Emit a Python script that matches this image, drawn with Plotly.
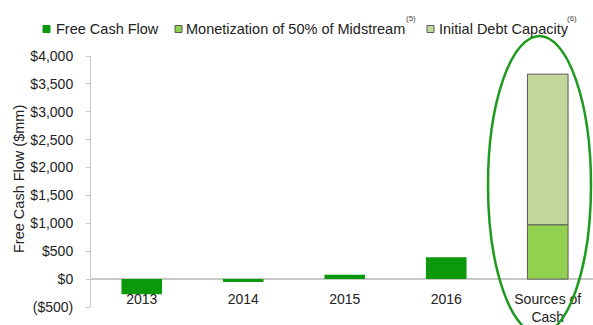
import plotly.graph_objects as go

categories = ["2013", "2014", "2015", "2016", "Sources of<br>Cash"]
free_cash_flow = [-270, -50, 80, 390, None]
midstream = [None, None, None, None, 975]
debt_capacity = [None, None, None, None, 2700]
series_names = ["Free Cash Flow", "Monetization of 50% of Midstream", "Initial Debt Capacity"]
series_notes = ["", "(5)", "(6)"]
y_ticks = [-500, 0, 500, 1000, 1500, 2000, 2500, 3000, 3500, 4000]
y_tick_labels = ["($500)", "$0", "$500", "$1,000", "$1,500", "$2,000", "$2,500", "$3,000", "$3,500", "$4,000"]

W, H = 593, 325
L, R, T, B = 91, 0, 56, 18
pw, ph = W - L - R, H - T - B
cat_px = 101.5

def px_x(x):
    return (x - L) / pw

def px_y(y):
    return (H - B - y) / ph

font = "Liberation Sans, Arial, sans-serif"
colors = ["#0a990a", "#92d050", "#c4d79b"]
outline = "#5a5a5a"

fig = go.Figure()
fig.add_trace(go.Bar(x=categories, y=free_cash_flow, name=series_names[0],
                     marker=dict(color=colors[0], line=dict(width=0)), width=0.4))
fig.add_trace(go.Bar(x=categories, y=midstream, name=series_names[1],
                     marker=dict(color=colors[1], line=dict(color=outline, width=1)), width=0.4))
fig.add_trace(go.Bar(x=categories, y=debt_capacity, name=series_names[2],
                     marker=dict(color=colors[2], line=dict(color=outline, width=1)), width=0.4))

# manual legend (compact, like the reference)
leg_marker_x = [43, 175, 427]
leg_text_x = [54, 184, 437]
leg_note_x = [None, 411, 572]
leg_y = 29
shapes = []
annotations = []
for i in range(3):
    shapes.append(dict(type="rect", xref="paper", yref="paper",
                       x0=px_x(leg_marker_x[i]), x1=px_x(leg_marker_x[i] + 7),
                       y0=px_y(leg_y + 3.5), y1=px_y(leg_y - 3.5),
                       fillcolor=colors[i],
                       line=dict(color=outline if i > 0 else colors[i], width=1)))
    annotations.append(dict(text=series_names[i], xref="paper", yref="paper",
                            x=px_x(leg_text_x[i]), y=px_y(leg_y), xanchor="left", yanchor="middle",
                            showarrow=False, font=dict(size=14.5, color="#222")))
    if series_notes[i]:
        annotations.append(dict(text=series_notes[i], xref="paper", yref="paper",
                                x=px_x(leg_note_x[i]), y=px_y(19), xanchor="center", yanchor="middle",
                                showarrow=False, font=dict(size=8, color="#444")))

annotations.append(dict(text="Free Cash Flow ($mm)", xref="paper", yref="paper",
                        x=px_x(19), y=px_y(179), textangle=-90, showarrow=False,
                        font=dict(size=14.5, color="#222"), xanchor="center", yanchor="middle"))

shapes.append(dict(type="circle", xref="paper", yref="paper",
                   x0=px_x(488), x1=px_x(591), y0=px_y(334), y1=px_y(36),
                   line=dict(color="#1e9a1e", width=2.5)))

fig.update_layout(
    width=W, height=H,
    margin=dict(l=L, r=R, t=T, b=B, pad=0, autoexpand=False),
    barmode="relative",
    plot_bgcolor="white", paper_bgcolor="white",
    font=dict(family=font, size=14, color="#222"),
    showlegend=False,
    xaxis=dict(anchor="free", position=500 / 4500, showline=False, showgrid=False,
               zeroline=False, ticks="outside", ticklen=7, tickcolor="rgba(0,0,0,0)",
               tickfont=dict(size=14, color="#222"), range=[-0.5, -0.5 + pw / cat_px],
               automargin=False),
    yaxis=dict(range=[-500, 4000], tickvals=y_ticks, ticktext=y_tick_labels,
               showgrid=False, zeroline=True, zerolinecolor="#c8c8c8", zerolinewidth=1.5,
               showline=True, linecolor="#c8c8c8", linewidth=1,
               ticks="outside", ticklen=4, tickcolor="#c8c8c8", ticklabelstandoff=10,
               tickfont=dict(size=14, color="#222"), automargin=False),
    annotations=annotations,
    shapes=shapes,
)

fig.write_html("out.html", config={"displayModeBar": False},
               post_script="document.body.style.margin='0';document.body.style.overflow='hidden';")
